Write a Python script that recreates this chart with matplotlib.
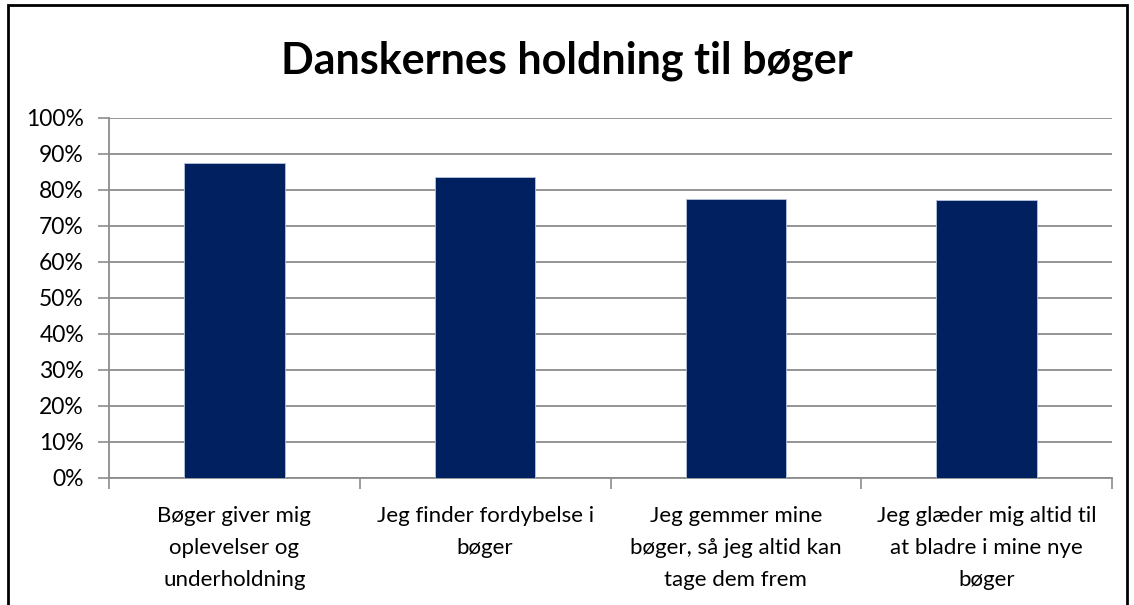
import matplotlib
matplotlib.use("Agg")
import matplotlib.pyplot as plt
from matplotlib.patches import Rectangle
from matplotlib.ticker import FixedLocator, NullFormatter

categories = [
    "Bøger giver mig\noplevelser og\nunderholdning",
    "Jeg finder fordybelse i\nbøger",
    "Jeg gemmer mine\nbøger, så jeg altid kan\ntage dem frem",
    "Jeg glæder mig altid til\nat bladre i mine nye\nbøger",
]
values = [0.876, 0.837, 0.774, 0.771]
yticks = [i / 10 for i in range(11)]
yticklabels = [f"{i*10}%" for i in range(11)]
title = "Danskernes holdning til bøger"

plt.rcParams['font.family'] = ['Lato', 'DejaVu Sans']

fig = plt.figure(figsize=(11.34, 6.05), dpi=100)
ax = fig.add_axes([109/1134, 1-478/605, (1112-109)/1134, (478-118)/605])

x = list(range(len(categories)))
ax.bar(x, values, width=0.4, color="#002060", edgecolor="#b8c4dc", linewidth=0.6, zorder=3)

ax.set_xlim(-0.5, len(categories) - 0.5)
ax.set_ylim(0, 1)
ax.set_yticks(yticks)
ax.set_yticklabels(yticklabels, fontsize=16.5)
ax.yaxis.grid(True, color="#8c8c8c", linewidth=1.3, zorder=0)
ax.set_axisbelow(True)

ax.set_xticks(x)
ax.set_xticklabels(categories, fontsize=16, linespacing=1.75)
ax.tick_params(axis='x', length=0, pad=20)
ax.xaxis.set_minor_locator(FixedLocator([-0.5, 0.5, 1.5, 2.5, 3.5]))
ax.xaxis.set_minor_formatter(NullFormatter())
ax.tick_params(axis='x', which='minor', length=8, width=1.2, color="#8c8c8c")
ax.tick_params(axis='y', length=8, width=1.2, color="#8c8c8c", pad=10)

for s in ["top", "right"]:
    ax.spines[s].set_visible(False)
for s in ["left", "bottom"]:
    ax.spines[s].set_color("#8c8c8c")
    ax.spines[s].set_linewidth(1.3)

fig.text(567/1134, 1-61/605, title, ha="center", va="center", fontsize=31, fontweight="bold")

border = Rectangle((8/1134, -0.1), (1127-8)/1134, 1.1 - 5/605, transform=fig.transFigure,
                   fill=False, edgecolor="black", linewidth=2, clip_on=False)
fig.patches.append(border)

fig.savefig("out.png", dpi=100)
